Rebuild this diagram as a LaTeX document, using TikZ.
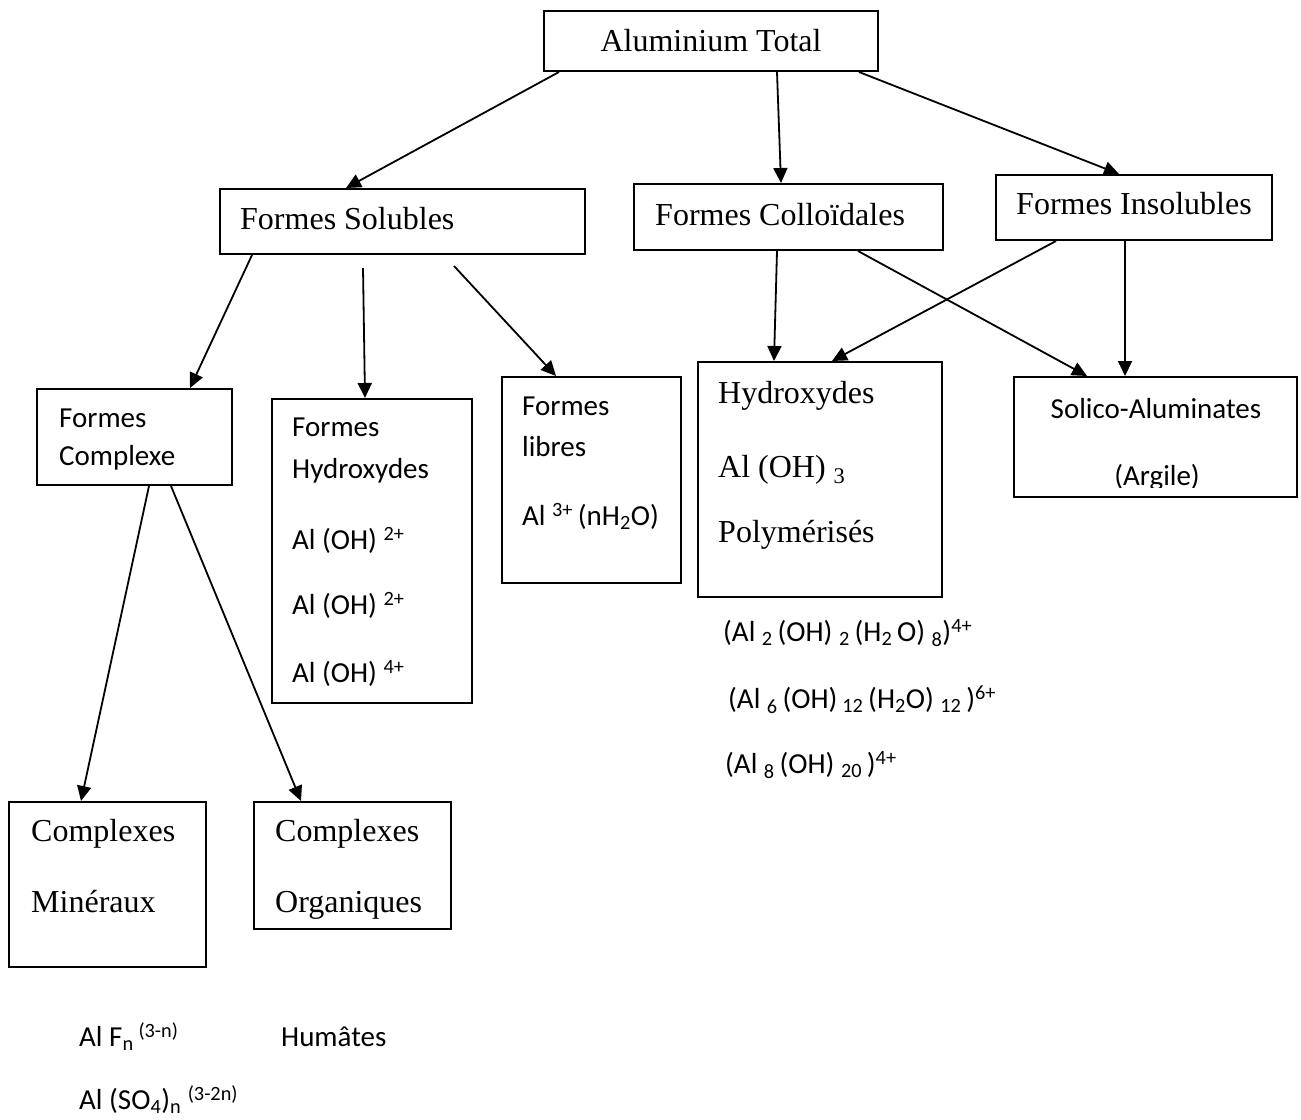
\documentclass[tikz,border=0pt]{standalone}
\usepackage{fontspec}
\setmainfont{Liberation Serif}
\newfontfamily\calib{Carlito}
\usetikzlibrary{arrows.meta}
\tikzset{
  box/.style={draw, line width=2pt, inner sep=0pt},
  arr/.style={line width=1.8pt, -{Triangle[length=15pt,width=14pt]}},
  tms/.style={font=\fontsize{32}{38}\selectfont, text height=21pt, text depth=0pt, inner sep=0pt, anchor=west},
  cal/.style={font=\calib\fontsize{29}{35}\selectfont, text height=18.7pt, text depth=0pt, inner sep=0pt, anchor=west}
}
\begin{document}
\begin{tikzpicture}[x=1pt,y=-1pt]
\useasboundingbox[fill=white] (0,0) rectangle (1301,1119);
% boxes
\node[box, minimum width=334pt, minimum height=60pt]  (tot) at (711,41) {};
\node[box, minimum width=365pt, minimum height=65pt]  (sol) at (402.5,221.5) {};
\node[box, minimum width=309pt, minimum height=66pt]  (col) at (788.5,217) {};
\node[box, minimum width=276pt, minimum height=65pt]  (ins) at (1134,207.5) {};
\node[box, minimum width=195pt, minimum height=96pt]  (cpx) at (134.5,437) {};
\node[box, minimum width=200pt, minimum height=304pt] (hyd) at (372,551) {};
\node[box, minimum width=179pt, minimum height=206pt] (lib) at (591.5,480) {};
\node[box, minimum width=244pt, minimum height=235pt] (hpo) at (820,479.5) {};
\node[box, minimum width=283pt, minimum height=120pt] (sil) at (1155.5,437) {};
\node[box, minimum width=197pt, minimum height=165pt] (min) at (107.5,884.5) {};
\node[box, minimum width=197pt, minimum height=127pt] (org) at (352.5,865.5) {};
% texts
\node[tms, anchor=center] (ttot) at (711,41) {Aluminium Total};
\node[tms] (tsol) at (240,218.5) {Formes Solubles};
\node[tms] (tcol) at (655,215) {Formes Colloïdales};
\node[tms] (tins) at (1016,204) {Formes Insolubles};
\node[cal] (tcpx1) at (59,418) {Formes};
\node[cal] (tcpx2) at (59,456) {Complexe};
\node[cal] (thyd1) at (292,427.5) {Formes};
\node[cal] (thyd2) at (292,469.5) {Hydroxydes};
\node[cal] (thyd3) at (292,540) {Al (OH) \textsuperscript{2+}};
\node[cal] (thyd4) at (292,605) {Al (OH) \textsuperscript{2+}};
\node[cal] (thyd5) at (292,673) {Al (OH) \textsuperscript{4+}};
\node[cal] (tlib1) at (522,406.5) {Formes};
\node[cal] (tlib2) at (522,447) {libres};
\node[cal] (tlib3) at (522,516) {Al \textsuperscript{3+}\,(nH\textsubscript{2}O)};
\node[tms] (thpo1) at (718,393) {Hydroxydes};
\node[tms] (thpo2) at (718,466.5) {Al (OH) \textsubscript{3}};
\node[tms] (thpo3) at (718,532) {Polymérisés};
\node[cal, anchor=center] (tsil1) at (1156,409) {Solico-Aluminates};
\begin{scope}
\clip (1014,377) rectangle (1297,487);
\node[cal, anchor=center] (tsil2) at (1157,476) {(Argile)};
\end{scope}
\node[tms] (tmin1) at (31,831) {Complexes};
\node[tms] (tmin2) at (31,902) {Minéraux};
\node[tms] (torg1) at (275,831) {Complexes};
\node[tms] (torg2) at (275,902) {Organiques};
\node[cal] (f1) at (723,632) {(Al \textsubscript{2}\,(OH) \textsubscript{2}\,(H\textsubscript{2}\,O) \textsubscript{8})\textsuperscript{4+}};
\node[cal] (f2) at (728,699) {(Al \textsubscript{6}\,(OH)\,\textsubscript{12}\,(H\textsubscript{2}O) \textsubscript{12}\,)\textsuperscript{6+}};
\node[cal] (f3) at (725,764) {(Al \textsubscript{8}\,(OH) \textsubscript{20}\,)\textsuperscript{4+}};
\node[cal] (b1) at (79,1037.5) {Al F\textsubscript{n}\,\textsuperscript{(3-n)}};
\node[cal] (b2) at (281,1037.5) {Humâtes};
\node[cal] (b3) at (79,1100) {Al (SO\textsubscript{4})\textsubscript{n} \textsuperscript{(3-2n)}};
% connectors
\draw[arr] ([xshift=16pt]tot.south west) -- ([xshift=127pt]sol.north west);
\draw[arr] ([xshift=234pt]tot.south west) -- ([xshift=148pt]col.north west);
\draw[arr] ([xshift=316pt]tot.south west) -- ([xshift=124pt]ins.north west);
\draw[arr] ([xshift=33pt]sol.south west) -- ([xshift=154pt]cpx.north west);
\draw[arr] ([xshift=144pt,yshift=-13pt]sol.south west) -- ([xshift=94pt]hyd.north west);
\draw[arr] ([xshift=235pt,yshift=-11pt]sol.south west) -- ([xshift=55pt]lib.north west);
\draw[arr] ([xshift=144pt]col.south west) -- ([xshift=77pt]hpo.north west);
\draw[arr] ([xshift=61pt]ins.south west) -- ([xshift=135pt]hpo.north west);
\draw[arr] ([xshift=225pt]col.south west) -- ([xshift=74pt]sil.north west);
\draw[arr] ([xshift=130pt]ins.south west) -- ([xshift=112pt]sil.north west);
\draw[arr] ([xshift=113pt]cpx.south west) -- ([xshift=73pt]min.north west);
\draw[arr] ([xshift=135pt]cpx.south west) -- ([xshift=48pt]org.north west);
\end{tikzpicture}
\end{document}
